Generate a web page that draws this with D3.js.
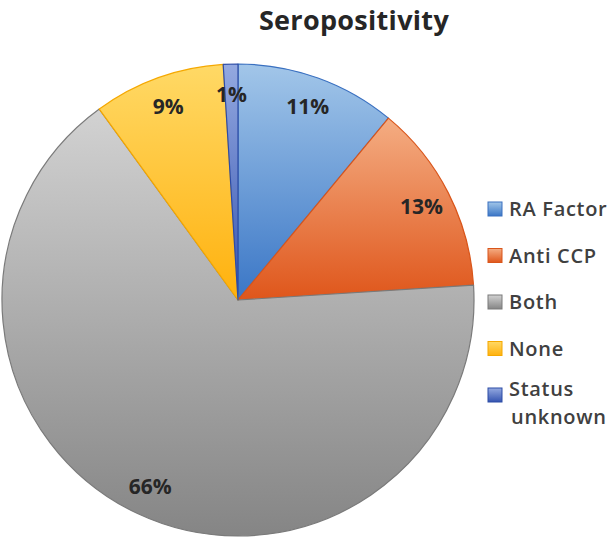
<!DOCTYPE html>
<html>
<head>
<meta charset="utf-8">
<script src="https://cdn.jsdelivr.net/npm/d3@7"></script>
<style>
  html, body { margin: 0; padding: 0; background: #fff; }
  svg { display: block; }
</style>
</head>
<body>
<svg id="chart" width="614" height="540"></svg>
<script>
const categories = ["RA Factor", "Anti CCP", "Both", "None", "Status unknown"];
const values = [11, 13, 66, 9, 1];
const labels = ["11%", "13%", "66%", "9%", "1%"];
const legendLines = [["RA Factor"], ["Anti CCP"], ["Both"], ["None"], ["Status", "unknown"]];
const topColors = ["#a2c6e9", "#f4ad83", "#d2d2d2", "#ffd966", "#94a9e0"];
const bottomColors = ["#3a76c6", "#df561b", "#858585", "#ffb10d", "#3554b0"];
const strokeColors = ["#3a70c0", "#d9551a", "#7a7a7a", "#f5a800", "#2d4ca6"];

const svg = d3.select("#chart");
const defs = svg.append("defs");
categories.forEach((c, i) => {
  const g = defs.append("linearGradient")
    .attr("id", "grad" + i)
    .attr("x1", 0).attr("y1", 0).attr("x2", 0).attr("y2", 1);
  g.append("stop").attr("offset", "0%").attr("stop-color", topColors[i]);
  g.append("stop").attr("offset", "100%").attr("stop-color", bottomColors[i]);
});

const cx = 238, cy = 300, r = 236;
const pie = d3.pie().sort(null).value(d => d)(values);
const arc = d3.arc().innerRadius(0).outerRadius(r);
const labelArc = d3.arc().innerRadius(206).outerRadius(206);

const gPie = svg.append("g").attr("transform", `translate(${cx},${cy})`);
gPie.selectAll("path.slice").data(pie).enter().append("path")
  .attr("class", "slice")
  .attr("d", arc)
  .attr("fill", (d, i) => `url(#grad${i})`)
  .attr("stroke", (d, i) => strokeColors[i])
  .attr("stroke-width", 1.2)
  .attr("stroke-linejoin", "round");

gPie.selectAll("text.lbl").data(pie).enter().append("text")
  .attr("class", "lbl")
  .attr("transform", d => `translate(${labelArc.centroid(d)})`)
  .attr("text-anchor", "middle")
  .attr("dy", "0.36em")
  .attr("font-family", "'Open Sans', sans-serif")
  .attr("font-weight", 700)
  .attr("font-size", 21)
  .attr("fill", "#262626")
  .text((d, i) => labels[i]);

svg.append("text")
  .attr("x", 354).attr("y", 30)
  .attr("text-anchor", "middle")
  .attr("font-family", "'Open Sans', sans-serif")
  .attr("font-weight", 700)
  .attr("font-size", 27)
  .attr("letter-spacing", 0.3)
  .attr("fill", "#262626")
  .text("Seropositivity");

const legendY = d3.scalePoint().domain(categories).range([209, 395]);
const leg = svg.append("g");
const items = leg.selectAll("g.item").data(categories).enter().append("g")
  .attr("class", "item")
  .attr("transform", d => `translate(487,${legendY(d)})`);
items.append("rect")
  .attr("x", 1).attr("y", -7).attr("width", 14).attr("height", 14)
  .attr("fill", (d, i) => `url(#grad${i})`)
  .attr("stroke", (d, i) => strokeColors[i])
  .attr("stroke-width", 1);
items.each(function(d, i) {
  const lines = legendLines[i];
  const n = lines.length;
  const step = 27.5;
  lines.forEach((line, j) => {
    d3.select(this).append("text")
      .attr("x", j === 0 ? 22 : 24)
      .attr("y", (j - (n - 1) / 2) * step + (n > 1 ? 8 : 0))
      .attr("dy", "0.36em")
      .attr("font-family", "'Open Sans', sans-serif")
      .attr("font-weight", 600)
      .attr("font-size", 20)
      .attr("letter-spacing", 0.7)
      .attr("fill", "#404040")
      .text(line);
  });
});
</script>
</body>
</html>
